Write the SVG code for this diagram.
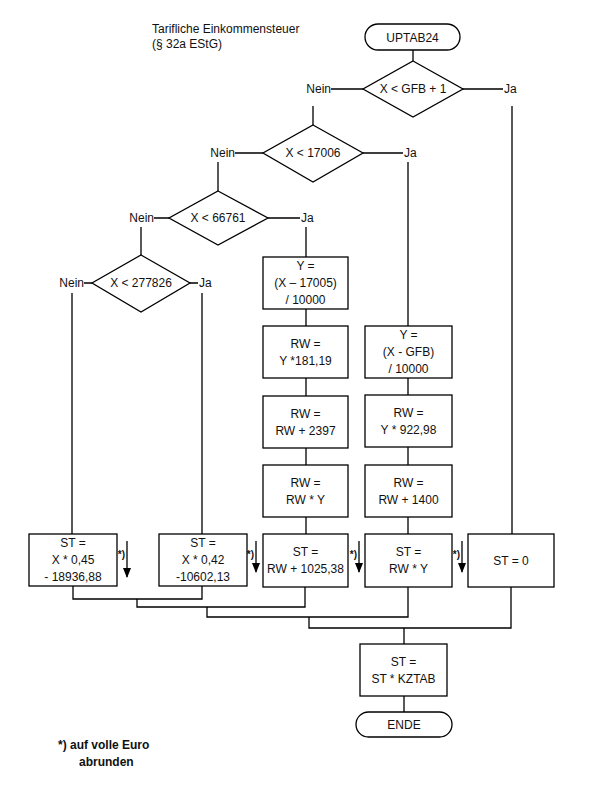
<svg xmlns="http://www.w3.org/2000/svg" width="590" height="802" viewBox="0 0 590 802">
<style>
text{font-family:"Liberation Sans",Arial,sans-serif;font-size:12px;fill:#111}
.c{text-anchor:middle}
.e{text-anchor:end}
.b{font-weight:bold}
.s{font-size:10px;font-weight:bold}
.n{fill:#fff;stroke:#000;stroke-width:1.3}
.l{fill:none;stroke:#000;stroke-width:1.3}
</style>
<defs>
<marker id="ah" markerUnits="userSpaceOnUse" markerWidth="10" markerHeight="8" refX="9" refY="4" orient="auto" viewBox="0 0 10 8">
<path d="M0,0 L10,4 L0,8 Z" fill="#000"/>
</marker>
</defs>
<rect width="590" height="802" fill="#fff"/>
<g id="title">
<text x="152" y="33">Tarifliche Einkommensteuer</text>
<text x="152" y="48">(§ 32a EStG)</text>
</g>
<g id="connectors" class="l">
<path d="M413,50V61"/>
<path d="M363,89H331M313,106V125"/>
<path d="M463,89H503M512,106V534"/>
<path d="M263,153H235M218,162V191"/>
<path d="M363,153H403M408,162V326"/>
<path d="M169,218H154M141,227V255"/>
<path d="M268,218H300M306,227V257"/>
<path d="M92,283H84M72,293V534"/>
<path d="M190,283H198M202,293V534"/>
<path d="M306,309V326M306,378V396M306,448V465M306,517V534"/>
<path d="M408,378V395M408,447V465M408,517V534"/>
<path d="M73,586V599H202V586"/>
<path d="M137,599V607H305V587"/>
<path d="M207,607V617H408V587"/>
<path d="M309,617V628H511V587"/>
<path d="M404,628V644M404,696V712"/>
</g>
<g id="rounding-arrows">
<path class="l" d="M127,541V577" marker-end="url(#ah)"/>
<path class="l" d="M256,541V572" marker-end="url(#ah)"/>
<path class="l" d="M359,541V572" marker-end="url(#ah)"/>
<path class="l" d="M462,541V572" marker-end="url(#ah)"/>
<text class="s e" x="125" y="558">*)</text>
<text class="s e" x="254" y="558">*)</text>
<text class="s e" x="357" y="558">*)</text>
<text class="s e" x="460" y="558">*)</text>
</g>
<g id="start">
<rect class="n" x="365" y="24" width="95" height="26" rx="13"/>
<text class="c" x="412.5" y="42">UPTAB24</text>
</g>
<g id="d1">
<path class="n" d="M413,61L463,89L413,117L363,89Z"/>
<text class="c" x="413" y="93">X &lt; GFB + 1</text>
<text class="e" x="331" y="93">Nein</text>
<text x="504" y="93">Ja</text>
</g>
<g id="d2">
<path class="n" d="M313,125L363,153L313,182L263,153Z"/>
<text class="c" x="313" y="157">X &lt; 17006</text>
<text class="e" x="235" y="157">Nein</text>
<text x="404" y="157">Ja</text>
</g>
<g id="d3">
<path class="n" d="M218,191L268,218L218,245L169,218Z"/>
<text class="c" x="218" y="222">X &lt; 66761</text>
<text class="e" x="154" y="222">Nein</text>
<text x="301" y="222">Ja</text>
</g>
<g id="d4">
<path class="n" d="M141,255L190,283L141,312L92,283Z"/>
<text class="c" x="141" y="287">X &lt; 277826</text>
<text class="e" x="84" y="287">Nein</text>
<text x="199" y="287">Ja</text>
</g>
<g id="m1">
<rect class="n" x="263" y="257" width="85" height="52"/>
<text class="c" x="305.5" y="270">Y =</text>
<text class="c" x="305.5" y="287">(X – 17005)</text>
<text class="c" x="305.5" y="304">/ 10000</text>
</g>
<g id="m2">
<rect class="n" x="263" y="326" width="85" height="52"/>
<text class="c" x="305.5" y="348">RW =</text>
<text class="c" x="305.5" y="365">Y *181,19</text>
</g>
<g id="m3">
<rect class="n" x="263" y="396" width="85" height="52"/>
<text class="c" x="305.5" y="418">RW =</text>
<text class="c" x="305.5" y="435">RW + 2397</text>
</g>
<g id="m4">
<rect class="n" x="263" y="465" width="85" height="52"/>
<text class="c" x="305.5" y="487">RW =</text>
<text class="c" x="305.5" y="504">RW * Y</text>
</g>
<g id="m5">
<rect class="n" x="263" y="534" width="85" height="53"/>
<text class="c" x="305.5" y="556">ST =</text>
<text class="c" x="305.5" y="573">RW + 1025,38</text>
</g>
<g id="r1">
<rect class="n" x="365" y="326" width="87" height="52"/>
<text class="c" x="408.5" y="339">Y =</text>
<text class="c" x="408.5" y="356">(X - GFB)</text>
<text class="c" x="408.5" y="373">/ 10000</text>
</g>
<g id="r2">
<rect class="n" x="365" y="395" width="87" height="52"/>
<text class="c" x="408.5" y="417">RW =</text>
<text class="c" x="408.5" y="434">Y * 922,98</text>
</g>
<g id="r3">
<rect class="n" x="365" y="465" width="87" height="52"/>
<text class="c" x="408.5" y="487">RW =</text>
<text class="c" x="408.5" y="504">RW + 1400</text>
</g>
<g id="r4">
<rect class="n" x="365" y="534" width="87" height="53"/>
<text class="c" x="408.5" y="556">ST =</text>
<text class="c" x="408.5" y="573">RW * Y</text>
</g>
<g id="z">
<rect class="n" x="468" y="534" width="86" height="53"/>
<text class="c" x="511" y="565">ST = 0</text>
</g>
<g id="l1">
<rect class="n" x="29" y="534" width="88" height="52"/>
<text class="c" x="73" y="547">ST =</text>
<text class="c" x="73" y="564">X * 0,45</text>
<text class="c" x="73" y="581">- 18936,88</text>
</g>
<g id="l2">
<rect class="n" x="159" y="534" width="88" height="52"/>
<text class="c" x="203" y="547">ST =</text>
<text class="c" x="203" y="564">X * 0,42</text>
<text class="c" x="203" y="581">-10602,13</text>
</g>
<g id="k">
<rect class="n" x="360" y="644" width="87" height="52"/>
<text class="c" x="403.5" y="666">ST =</text>
<text class="c" x="403.5" y="683">ST * KZTAB</text>
</g>
<g id="end">
<rect class="n" x="356" y="712" width="96" height="25" rx="12.5"/>
<text class="c" x="404" y="729">ENDE</text>
</g>
<g id="footnote">
<text class="b" x="58" y="749">*) auf volle Euro</text>
<text class="b" x="79" y="766">abrunden</text>
</g>
</svg>
